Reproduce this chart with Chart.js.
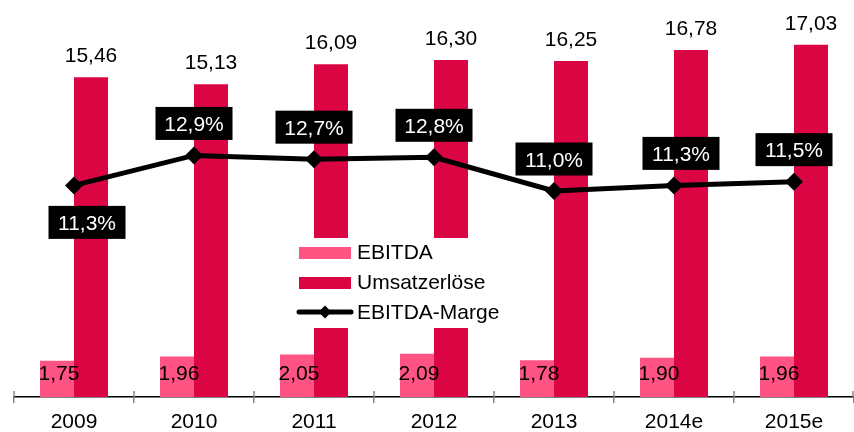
<!DOCTYPE html>
<html>
<head>
<meta charset="utf-8">
<script src="https://cdn.jsdelivr.net/npm/chart.js@4.4.1/dist/chart.umd.min.js"></script>
<style>
body{margin:0;background:#fff}
#wrap{width:854px;height:432px}
</style>
</head>
<body>
<div id="wrap"><canvas id="chart"></canvas></div>
<script>

const years = ['2009','2010','2011','2012','2013','2014e','2015e']
const ebitda = [1.75,1.96,2.05,2.09,1.78,1.90,1.96]
const umsatz = [15.46,15.13,16.09,16.30,16.25,16.78,17.03]
const marge = [11.3,12.9,12.7,12.8,11.0,11.3,11.5]

// where the black marge boxes sit
const margeBelow = [true,false,false,false,false,false,false]
const margeShift = [13,0,0,0,0,7,0]

const FONT = '21px "Liberation Sans", Arial, sans-serif'
const PINK = '#FF5383'
const RED = '#DC0544'

function fmt(v,d){
return v.toFixed(d).replace('.',',')
}

const labelPlugin = {
id:'labels',
afterDatasetsDraw(chart){

const ctx = chart.ctx
const ds = chart.data.datasets
const xs = chart.scales.x
ctx.save()

// tick marks cross the axis line
ctx.strokeStyle = '#888'
ctx.lineWidth = 1.5
for(let i=0;i<=years.length;i++){
let x = Math.min(xs.getPixelForValue(i-0.5),xs.right-1)
ctx.beginPath()
ctx.moveTo(x,xs.top-6)
ctx.lineTo(x,xs.top)
ctx.stroke()
}

// legend in the middle of the plot
let lx = 299
let tx = 357
ctx.fillStyle = '#fff'
ctx.fillRect(294,238,214,90)

ctx.fillStyle = ds[1].backgroundColor
ctx.fillRect(lx,247,52,12)
ctx.fillStyle = ds[2].backgroundColor
ctx.fillRect(lx,277,52,12)

ctx.strokeStyle = '#000'
ctx.lineWidth = 5
ctx.lineCap = 'round'
ctx.beginPath()
ctx.moveTo(lx,312)
ctx.lineTo(lx+52,312)
ctx.stroke()
ctx.fillStyle = '#000'
ctx.beginPath()
ctx.moveTo(lx+26,305.5)
ctx.lineTo(lx+32.5,312)
ctx.lineTo(lx+26,318.5)
ctx.lineTo(lx+19.5,312)
ctx.closePath()
ctx.fill()

ctx.font = FONT
ctx.textAlign = 'left'
ctx.textBaseline = 'alphabetic'
ctx.fillText(ds[1].label,tx,259)
ctx.fillText(ds[2].label,tx,289)
ctx.fillText(ds[0].label,tx,319)

// value labels
ctx.textAlign = 'center'

chart.getDatasetMeta(1).data.forEach((bar,i)=>{
ctx.fillStyle = '#000'
ctx.fillText(fmt(ebitda[i],2),bar.x+2,bar.base-17)
})

chart.getDatasetMeta(2).data.forEach((bar,i)=>{
ctx.fillStyle = '#000'
ctx.fillText(fmt(umsatz[i],2),bar.x,bar.y-15)
})

chart.getDatasetMeta(0).data.forEach((pt,i)=>{
let cx = pt.x + margeShift[i]
let cy = margeBelow[i] ? pt.y+37 : pt.y-32
ctx.fillStyle = '#000'
ctx.fillRect(cx-38.5,cy-16.5,77,33)
ctx.fillStyle = '#fff'
ctx.fillText(fmt(marge[i],1)+'%',cx,cy+7.5)
})

ctx.restore()
}
}

new Chart(document.getElementById('chart'),{
type:'bar',
data:{
labels:years,
datasets:[{
type:'line',
label:'EBITDA-Marge',
data:marge,
yAxisID:'y2',
order:0,
borderColor:'#000',
backgroundColor:'#000',
borderWidth:5,
tension:0,
pointStyle:'rectRot',
pointRadius:9,
pointBackgroundColor:'#000',
pointBorderColor:'#000',
pointBorderWidth:0
},{
label:'EBITDA',
data:ebitda,
yAxisID:'y',
order:1,
backgroundColor:PINK,
categoryPercentage:0.567,
barPercentage:1
},{
label:'Umsatzerlöse',
data:umsatz,
yAxisID:'y',
order:1,
backgroundColor:RED,
categoryPercentage:0.567,
barPercentage:1
}]
},
options:{
responsive:true,
maintainAspectRatio:false,
animation:false,
layout:{autoPadding:false,padding:{left:14,right:0,top:0,bottom:0}},
plugins:{
legend:{display:false},
tooltip:{enabled:false}
},
scales:{
x:{
offset:true,
grid:{
display:true,
offset:true,
drawOnChartArea:false,
drawTicks:true,
tickLength:6,
color:'#888',
lineWidth:1.5
},
border:{display:true,color:'#000',width:1.5},
ticks:{
color:'#000',
font:{family:'"Liberation Sans", Arial, sans-serif',size:21},
padding:7,
maxRotation:0
},
afterFit(scale){
scale.height = 35
}
},
y:{
display:false,
min:0,
max:19.2
},
y2:{
display:false,
min:0,
max:21.2
}
}
},
plugins:[labelPlugin]
})

</script>
</body>
</html>
